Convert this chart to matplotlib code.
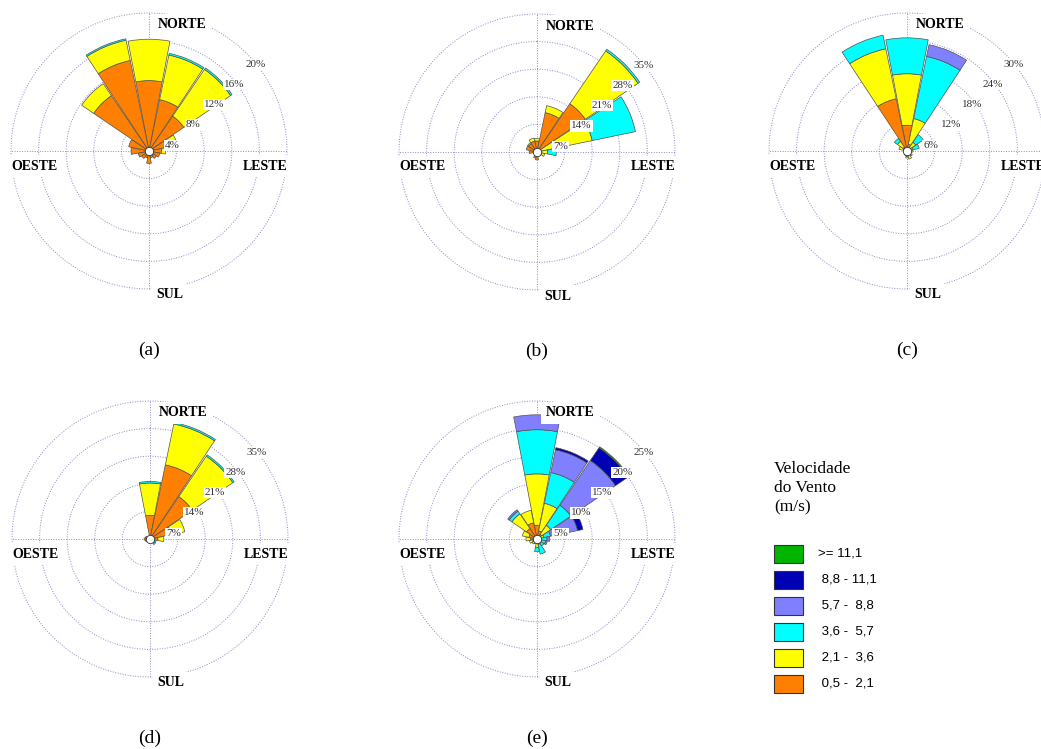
"""
Rosas dos ventos (a)-(e): frequencia (%) por direcao e classe de velocidade.
Saida: out.png
"""
import numpy as np
import matplotlib
matplotlib.use("Agg")
import matplotlib.pyplot as plt
from matplotlib.patches import Rectangle

# 16 direcoes (N, NNE, ... NNW); cada linha = classes de velocidade
# [0,5-2,1, 2,1-3,6, 3,6-5,7, 5,7-8,8, 8,8-11,1, >=11,1]  (% de ocorrencia)
direcoes = ["N", "NNE", "NE", "ENE", "E", "ESE", "SE", "SSE",
            "S", "SSW", "SW", "WSW", "W", "WNW", "NW", "NNW"]

classes = [">= 11,1", " 8,8 - 11,1", " 5,7 -  8,8", " 3,6 -  5,7", " 2,1 -  3,6", " 0,5 -  2,1"]
cores = ["#FF8000", "#FFFF00", "#00FFFF", "#8080FF", "#0000B4", "#00B400"]  # orange -> green

rosa_a = [[10.2, 6.0, 0.0, 0, 0, 0],
          [7.6, 6.6, 0.25, 0, 0, 0],
          [6.1, 8.2, 0.25, 0, 0, 0],
          [2.8, 1.4, 0.0, 0, 0, 0],
          [1.8, 0.6, 0.0, 0, 0, 0],
          [1.6, 0.0, 0.0, 0, 0, 0],
          [1.3, 0.0, 0.0, 0, 0, 0],
          [1.0, 0.0, 0.0, 0, 0, 0],
          [1.8, 0.0, 0.0, 0, 0, 0],
          [1.0, 0.0, 0.0, 0, 0, 0],
          [1.3, 0.0, 0.0, 0, 0, 0],
          [1.6, 0.0, 0.0, 0, 0, 0],
          [2.6, 0.0, 0.0, 0, 0, 0],
          [3.0, 0.0, 0.0, 0, 0, 0],
          [9.7, 2.1, 0.0, 0, 0, 0],
          [13.4, 3.0, 0.2, 0, 0, 0]]

rosa_b = [[2.8, 0.6, 0.0, 0, 0, 0],
          [10.2, 1.8, 0.0, 0, 0, 0],
          [14.8, 16.2, 0.5, 0, 0, 0],
          [1.0, 13.3, 11.2, 0, 0, 0],
          [0.5, 2.2, 2.2, 0, 0, 0],
          [0.5, 1.5, 0.0, 0, 0, 0],
          [0.4, 0.8, 0.0, 0, 0, 0],
          [0.5, 0.3, 0.0, 0, 0, 0],
          [2.0, 0.0, 0.0, 0, 0, 0],
          [1.6, 0.0, 0.0, 0, 0, 0],
          [0.8, 0.0, 0.0, 0, 0, 0],
          [0.8, 0.0, 0.0, 0, 0, 0],
          [2.0, 0.0, 0.0, 0, 0, 0],
          [2.8, 0.0, 0.0, 0, 0, 0],
          [2.6, 0.3, 0.0, 0, 0, 0],
          [2.8, 0.8, 0.0, 0, 0, 0]]

rosa_c = [[5.6, 11.2, 7.8, 0.0, 0, 0],
          [1.5, 5.7, 13.8, 2.6, 0, 0],
          [0.8, 1.5, 2.0, 0.0, 0, 0],
          [0.3, 1.0, 1.4, 0.0, 0, 0],
          [0.5, 0.8, 0.0, 0.0, 0, 0],
          [0.5, 0.3, 0.0, 0.0, 0, 0],
          [0.6, 0.8, 0.0, 0.0, 0, 0],
          [0.8, 1.0, 0.0, 0.0, 0, 0],
          [1.2, 0.3, 0.0, 0.0, 0, 0],
          [1.0, 0.0, 0.0, 0.0, 0, 0],
          [0.8, 0.0, 0.0, 0.0, 0, 0],
          [0.6, 0.0, 0.0, 0.0, 0, 0],
          [0.5, 0.3, 0.0, 0.0, 0, 0],
          [0.8, 1.0, 0.0, 0.0, 0, 0],
          [1.0, 1.5, 0.8, 0.0, 0, 0],
          [11.6, 11.1, 3.0, 0.0, 0, 0]]

rosa_d = [[6.0, 8.2, 0.4, 0, 0, 0],
          [19.2, 10.6, 0.4, 0, 0, 0],
          [13.0, 12.4, 0.4, 0, 0, 0],
          [5.5, 3.5, 0.0, 0, 0, 0],
          [2.0, 1.5, 0.0, 0, 0, 0],
          [0.5, 0.5, 0.6, 0, 0, 0],
          [0.5, 0.4, 0.8, 0, 0, 0],
          [0.6, 0.3, 0.0, 0, 0, 0],
          [0.8, 0.0, 0.0, 0, 0, 0],
          [0.5, 0.0, 0.0, 0, 0, 0],
          [0.8, 0.0, 0.0, 0, 0, 0],
          [1.2, 0.0, 0.0, 0, 0, 0],
          [1.5, 0.0, 0.0, 0, 0, 0],
          [1.2, 0.0, 0.0, 0, 0, 0],
          [0.8, 0.0, 0.0, 0, 0, 0],
          [0.8, 0.0, 0.0, 0, 0, 0]]

rosa_e = [[2.5, 9.3, 8.0, 2.7, 0.0, 0.0],
          [1.5, 5.1, 5.7, 4.2, 0.4, 0.0],
          [1.0, 2.0, 4.4, 9.8, 2.8, 0.2],
          [0.5, 0.8, 1.2, 5.0, 1.0, 0.0],
          [0.3, 0.5, 1.0, 0.5, 0.0, 0.0],
          [0.3, 0.5, 0.8, 0.3, 0.0, 0.0],
          [0.3, 0.4, 0.8, 0.0, 0.0, 0.0],
          [0.3, 0.7, 1.8, 0.0, 0.0, 0.0],
          [0.5, 1.0, 0.8, 0.0, 0.0, 0.0],
          [0.3, 0.6, 0.0, 0.0, 0.0, 0.0],
          [0.5, 0.6, 0.0, 0.0, 0.0, 0.0],
          [0.8, 0.6, 0.0, 0.0, 0.0, 0.0],
          [1.2, 0.8, 0.0, 0.0, 0.0, 0.0],
          [1.5, 1.2, 0.0, 0.0, 0.0, 0.0],
          [2.3, 3.2, 0.6, 0.3, 0.0, 0.0],
          [3.0, 2.3, 0.0, 0.0, 0.0, 0.0]]

aneis_a = [4, 8, 12, 16, 20]
aneis_b = [7, 14, 21, 28, 35]
aneis_c = [6, 12, 18, 24, 30]
aneis_d = [7, 14, 21, 28, 35]
aneis_e = [5, 10, 15, 20, 25]

W, H = 1041, 749
R = 138          # raio do circulo externo em pixels
GRID = "#8a8ac8"
SERIF = ["Liberation Serif", "DejaVu Serif"]

fig = plt.figure(figsize=(W / 100, H / 100), dpi=100)


def rosa(cx, cy, dados, aneis, letra):
    ax = fig.add_axes([(cx - R) / W, 1 - (cy + R) / H, 2 * R / W, 2 * R / H],
                      projection="polar")
    ax.set_theta_zero_location("N")
    ax.set_theta_direction(-1)
    ax.grid(False)
    ax.set_xticks([]); ax.set_yticks([])
    ax.spines["polar"].set_visible(False)
    rmax = aneis[-1]

    # aneis e eixos pontilhados
    tt = np.linspace(0, 2 * np.pi, 400)
    for r in aneis:
        ax.plot(tt, np.full_like(tt, r), ls=(0, (1, 1.6)), color=GRID, lw=0.7,
                zorder=1, clip_on=False)
    for t in np.deg2rad([0, 90, 180, 270]):
        ax.plot([t, t], [0, rmax], ls=(0, (1, 1.6)), color=GRID, lw=0.7,
                zorder=1, clip_on=False)

    # barras empilhadas por classe
    theta = np.deg2rad(np.arange(16) * 22.5)
    largura = np.deg2rad(22.5) * 0.96
    v = np.array(dados)
    base = np.zeros(16)
    for j in range(v.shape[1]):
        m = v[:, j] > 0
        ax.bar(theta[m], v[m, j], width=largura, bottom=base[m], color=cores[j],
               edgecolor="#505050", lw=0.5, zorder=2)
        base += v[:, j]
    ax.plot([0], [0], "o", ms=6, mfc="white", mec="#333333", mew=0.6, zorder=5)
    ax.set_ylim(0, rmax)

    # rotulos de porcentagem
    for k, r in enumerate(aneis, start=1):
        x, y = 0.02 + 0.15 * k, -0.105 + 0.147 * k
        ax.text(0.5 + x / 2, 0.5 + y / 2, f"{r}%", transform=ax.transAxes,
                ha="center", va="center", fontsize=8, family=SERIF, color="#333333",
                bbox=dict(boxstyle="square,pad=0.1", fc="white", ec="none"), zorder=6)

    # pontos cardeais
    kw = dict(transform=ax.transAxes, ha="center", va="center", fontsize=10,
              family=SERIF, fontweight="bold", zorder=7,
              bbox=dict(boxstyle="square,pad=0.35", fc="white", ec="none"))
    ax.text(0.5 + 33 / 276, 0.5 + 126 / 276, "NORTE", **kw)
    ax.text(0.5 + 116 / 276, 0.5 - 15 / 276, "LESTE", **kw)
    ax.text(0.5 - 114 / 276, 0.5 - 15 / 276, "OESTE", **kw)
    ax.text(0.5 + 21 / 276, 0.5 - 144 / 276, "SUL", **kw)

    fig.text(cx / W, 1 - (cy + 199) / H, f"({letra})", ha="center", va="center",
             fontsize=14, family=SERIF)


rosa(149, 151, rosa_a, aneis_a, "a")
rosa(537, 152, rosa_b, aneis_b, "b")
rosa(907, 151, rosa_c, aneis_c, "c")
rosa(150, 539, rosa_d, aneis_d, "d")
rosa(537, 539, rosa_e, aneis_e, "e")

# legenda
fig.text(774 / W, 1 - 461 / H, "Velocidade\ndo Vento\n(m/s)", ha="left", va="top",
         fontsize=12.5, family=SERIF, linespacing=1.25)
for i, (rot, cor) in enumerate(zip(classes, cores[::-1])):
    yc = 554 + 26 * i
    fig.add_artist(Rectangle((774 / W, 1 - (yc + 9) / H), 29 / W, 18 / H,
                             transform=fig.transFigure, fc=cor, ec="#333333", lw=0.8))
    fig.text(818 / W, 1 - yc / H, rot, ha="left", va="center", fontsize=9.5,
             family=["Liberation Sans", "DejaVu Sans"])

fig.savefig("out.png", dpi=100)
